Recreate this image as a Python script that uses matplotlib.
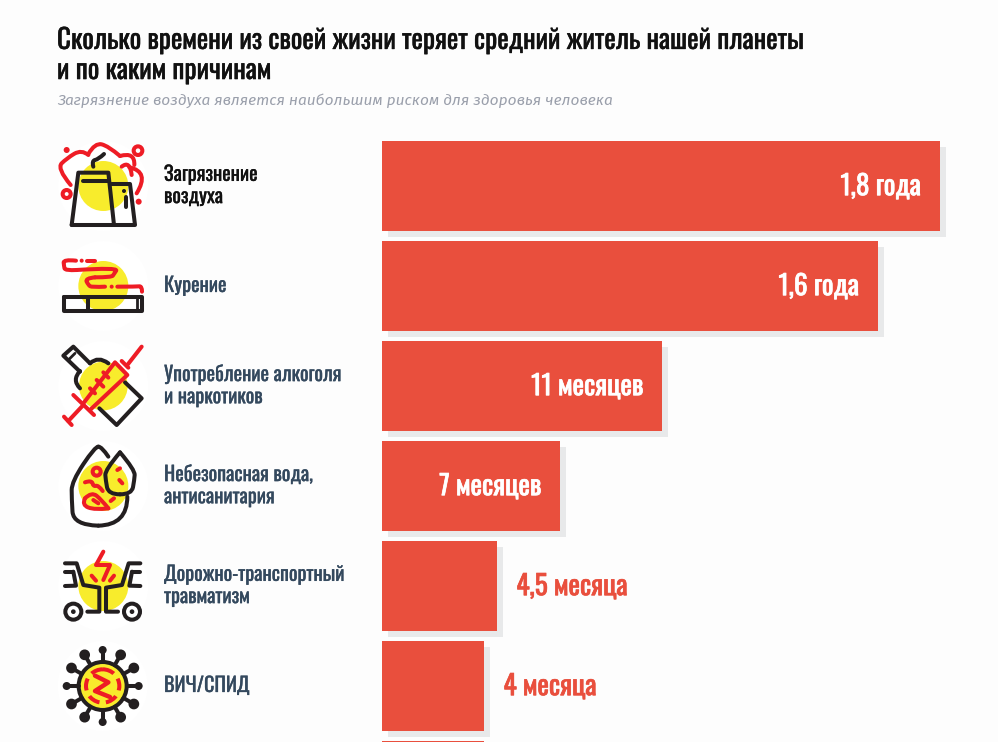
import numpy as np
import matplotlib
matplotlib.use('Agg')
import matplotlib.pyplot as plt
import matplotlib.patheffects as pe
from matplotlib.path import Path
from matplotlib.patches import PathPatch, Circle
from matplotlib.transforms import Affine2D

categories = ['Загрязнение\nвоздуха', 'Курение', 'Употребление алкоголя\nи наркотиков',
              'Небезопасная вода,\nантисанитария', 'Дорожно-транспортный\nтравматизм', 'ВИЧ/СПИД', '']
months = [21.6, 19.2, 10.84, 6.89, 4.45, 3.95, 3.95]
value_labels = ['1,8 года', '1,6 года', '11 месяцев', '7 месяцев', '4,5 месяца', '4 месяца', '']
label_inside = [True, True, True, True, False, False, False]

title = 'Сколько времени из своей жизни теряет средний житель нашей планеты\nи по каким причинам'
subtitle = 'Загрязнение воздуха является наибольшим риском для здоровья человека'

BG = '#fdfdfd'
BAR = '#e94f3d'
SHADOW = '#e8e9ea'
RED = '#ee1c25'
BLACK = '#231f20'
YEL = '#f8ec2c'
plt.rcParams['font.family'] = ['Oswald', 'Fira Sans Condensed', 'Liberation Sans', 'DejaVu Sans']
ICON_LW = 2.9

W, H = 998, 742
fig = plt.figure(figsize=(W / 100, H / 100), dpi=100, facecolor=BG)

# overlay in pixel coords for text + icons
bg = fig.add_axes([0, 0, 1, 1])
bg.set_xlim(0, W)
bg.set_ylim(H, 0)
bg.axis('off')

# bars
ax = fig.add_axes([382 / W, 0, (W - 382) / W, (H - 136) / H])
ax.set_xlim(0, (W - 382) / 25.83)
ax.set_ylim(5.56, -0.5)
ax.axis('off')
ypos = np.arange(len(months))
shadow = ax.barh(ypos, months, height=0.9, color=SHADOW)
for b in shadow:
    b.set_transform(ax.transData + Affine2D().translate(6, -6))
ax.barh(ypos, months, height=0.9, color=BAR)
for i in range(len(months)):
    if label_inside[i]:
        t = ax.annotate(value_labels[i], (months[i], i), xytext=(-13.5, -0.5), textcoords='offset points',
                        ha='right', va='center', color='white', fontsize=19.7)
    else:
        t = ax.annotate(value_labels[i], (months[i], i), xytext=(14, -0.5), textcoords='offset points',
                        ha='left', va='center', color=BAR, fontsize=19.7)
    t.set_path_effects([pe.withStroke(linewidth=0.5, foreground=t.get_color())])

t = bg.text(57, 55.5, title, fontsize=19.6, color='#111111', va='center', linespacing=1.14)
t.set_path_effects([pe.withStroke(linewidth=0.3, foreground='#111111')])
bg.text(57, 100.5, subtitle, fontsize=11.15, style='italic', color='#9a9fab', va='center',
        family=['Fira Sans', 'Liberation Sans', 'DejaVu Sans'])
label_colors = ['#111111'] + ['#34495e'] * 6
for i in range(6):
    t = bg.text(164, 185 + 100 * i, categories[i], fontsize=14.5, color=label_colors[i], va='center', linespacing=1.13)
    t.set_path_effects([pe.withStroke(linewidth=0.2, foreground=label_colors[i])])


def smooth(pts):
    verts = [pts[0]]
    codes = [Path.MOVETO]
    for j in range(1, len(pts) - 1):
        nxt = pts[j + 1]
        mid = nxt if j == len(pts) - 2 else ((pts[j][0] + nxt[0]) / 2, (pts[j][1] + nxt[1]) / 2)
        verts += [pts[j], mid]
        codes += [Path.CURVE3, Path.CURVE3]
    if len(pts) == 2:
        verts.append(pts[1])
        codes.append(Path.LINETO)
    return Path(verts, codes)


class Icon:
    # coords are the 3x zoom crop coords, (ox, oy) is crop origin
    def __init__(self, ox, oy):
        self.ox, self.oy = ox, oy

    def pt(self, p):
        return (self.ox + p[0] / 3, self.oy + p[1] / 3)

    def base(self, cx, cy, r=75):
        c = self.pt((cx, cy))
        bg.add_patch(Circle(c, 45, color='white', lw=0))
        bg.add_patch(Circle(c, r / 3, color=YEL, lw=0))

    def line(self, pts, color=BLACK, lw=ICON_LW):
        xy = [self.pt(p) for p in pts]
        bg.plot(*zip(*xy), color=color, lw=lw, solid_capstyle='round', solid_joinstyle='round')

    def curve(self, pts, color=BLACK, lw=ICON_LW):
        xy = [self.pt(p) for p in pts]
        bg.add_patch(PathPatch(smooth(xy), fc='none', ec=color, lw=lw, capstyle='round', joinstyle='round'))

    def ring(self, p, r, color=BLACK, lw=ICON_LW, fc='none'):
        bg.add_patch(Circle(self.pt(p), r / 3, fc=fc, ec=color, lw=lw))

    def dot(self, p, r, color=BLACK):
        bg.add_patch(Circle(self.pt(p), r / 3, color=color, lw=0))


# air pollution
ic = Icon(40, 130)
ic.base(190, 168)
ic.curve([(92, 165), (50, 115), (80, 85), (125, 58), (145, 75)], RED)
ic.curve([(145, 72), (165, 38), (205, 48), (240, 78)], RED)
ic.curve([(240, 78), (285, 65), (283, 105)], RED)
ic.curve([(245, 110), (270, 90), (275, 135)], RED)
ic.curve([(268, 112), (330, 125), (290, 190)], RED)
ic.dot((80, 60), 9, RED)
ic.ring((294, 62), 13, RED)
ic.ring((80, 192), 12, RED)
ic.dot((296, 215), 9, RED)
ic.line([(95, 285), (115, 128), (205, 128), (222, 285)])
ic.line([(215, 162), (270, 162), (285, 285), (95, 285)])
ic.line([(130, 152), (205, 152)])
ic.dot((252, 183), 6)
ic.line([(257, 200), (257, 232)])
ic.curve([(160, 110), (155, 92), (175, 88), (192, 72)])

# smoking
ic = Icon(40, 130)
ic.base(190, 468)
ic.line([(165, 392), (142, 392)], RED)
ic.dot((125, 392), 6, RED)
ic.curve([(108, 392), (70, 388), (72, 408), (75, 422), (110, 420)], RED)
ic.curve([(110, 420), (235, 412), (222, 432), (215, 442), (165, 442)], RED)
ic.curve([(165, 442), (135, 445), (145, 465), (155, 472), (195, 470)], RED)
ic.dot((215, 470), 6, RED)
ic.curve([(232, 470), (290, 470), (306, 468), (306, 485)], RED)
ic.line([(72, 500), (306, 500), (306, 543), (72, 543), (72, 500)])
ic.line([(143, 500), (143, 543)])
ic.line([(292, 500), (292, 543)], lw=2)

# alcohol and drugs
ic = Icon(40, 335)
ic.base(190, 153, 73)
ic.line([(150, 85), (100, 35), (70, 62), (120, 110)])
ic.line([(88, 72), (105, 55)], lw=2)
ic.curve([(150, 85), (175, 62), (205, 85)])
ic.curve([(120, 108), (95, 135), (120, 160)])
ic.line([(255, 142), (305, 190), (230, 270), (178, 220)])
ic.line([(72, 245), (95, 270)], RED)
ic.line([(85, 258), (130, 210)], RED)
ic.line([(100, 180), (162, 240)], RED)
ic.line([(130, 205), (225, 82), (262, 120), (150, 225)], RED)
ic.line([(262, 90), (305, 35)], RED)
ic.line([(245, 78), (265, 98)], RED)
ic.line([(190, 112), (205, 128)], RED)
ic.line([(170, 135), (190, 155)], RED)
ic.line([(150, 160), (165, 175)], RED)

# water
ic = Icon(40, 335)
ic.base(190, 453)
ic.curve([(205, 365), (185, 335), (175, 335)])
ic.curve([(175, 335), (165, 335), (95, 440), (95, 490), (100, 570), (175, 572)])
ic.curve([(175, 572), (262, 570), (262, 485)])
ic.curve([(240, 352), (195, 405), (197, 435), (205, 478), (240, 478)])
ic.curve([(240, 352), (285, 405), (283, 435), (275, 478), (240, 478)])
ic.ring((170, 410), 12, RED)
ic.curve([(135, 442), (155, 435), (160, 455), (175, 450), (188, 468)], RED)
ic.curve([(135, 490), (125, 510), (165, 525), (205, 520)], RED)
ic.curve([(135, 490), (155, 470), (185, 495), (205, 520)], RED)
ic.line([(160, 495), (175, 505)], RED)
ic.line([(232, 405), (240, 400)], RED)
ic.line([(238, 435), (247, 445)], RED)
ic.line([(212, 498), (222, 490)], RED)

# road
ic = Icon(40, 535)
ic.base(190, 153)
for s in (1, -1):
    def fx(p):
        return (p[0], p[1]) if s == 1 else (376 - p[0], p[1])
    ic.line([fx(p) for p in [(75, 85), (110, 85), (130, 150), (178, 158), (178, 230), (142, 230)]])
    ic.line([fx(p) for p in [(100, 110), (75, 110)]])
    ic.line([fx(p) for p in [(100, 110), (108, 152), (75, 153)]])
    ic.ring(fx((100, 230)), 24)
    ic.dot(fx((100, 230)), 7)
ic.line([(190, 50), (168, 90), (210, 90), (190, 135)], RED)
ic.line([(155, 122), (168, 137)], RED)
ic.line([(222, 122), (210, 137)], RED)

# hiv
ic = Icon(40, 535)
ic.base(188, 453, 70)
ic.ring((188, 453), 72)
for ang in np.arange(0, 360, 30):
    dx, dy = np.cos(np.radians(ang)), np.sin(np.radians(ang))
    ic.line([(188 + 72 * dx, 453 + 72 * dy), (188 + 108 * dx, 453 + 108 * dy)])
    if ang % 90 == 0:
        ic.dot((188 + 108 * dx, 453 + 108 * dy), 12)
    else:
        ic.ring((188 + 108 * dx, 453 + 108 * dy), 10, fc='white')
ic.ring((188, 453), 50, RED)
bg.patches[-1].set_linestyle((0, (3, 1.6)))
ic.line([(165, 422), (205, 442), (165, 468), (210, 486)], RED, lw=3.2)

fig.savefig('out.png', dpi=100, facecolor=BG)
